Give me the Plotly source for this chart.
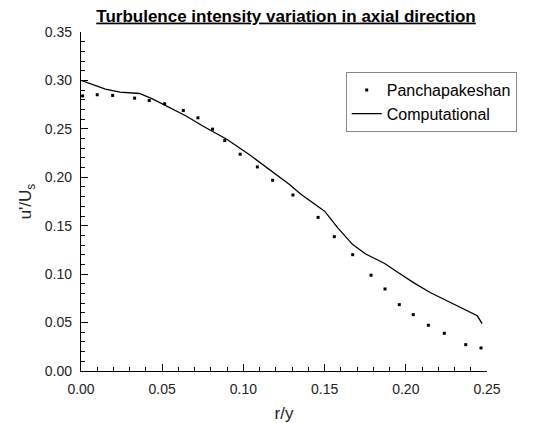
import plotly.graph_objects as go

# Experimental data (Panchapakeshan)
exp_x = [0.001, 0.010, 0.0195, 0.033, 0.042, 0.0515, 0.063, 0.072, 0.081, 0.0885,
         0.098, 0.1086, 0.118, 0.1305, 0.146, 0.156, 0.1673, 0.1786, 0.1872, 0.196,
         0.2046, 0.2139, 0.2237, 0.2369, 0.2463]
exp_y = [0.284, 0.2852, 0.2845, 0.2817, 0.2793, 0.2759, 0.2690, 0.2614, 0.2497, 0.2379,
         0.2238, 0.2107, 0.1969, 0.1817, 0.1586, 0.1387, 0.1201, 0.0989, 0.0847, 0.0685,
         0.0582, 0.0472, 0.0389, 0.0272, 0.0238]

# Computational results
comp_x = [0.0, 0.008, 0.015, 0.024, 0.036, 0.044, 0.055, 0.065, 0.075, 0.090,
          0.104, 0.118, 0.128, 0.135, 0.141, 0.150, 0.158, 0.167, 0.175, 0.181,
          0.187, 0.195, 0.205, 0.215, 0.225, 0.233, 0.240, 0.244, 0.247]
comp_y = [0.300, 0.295, 0.291, 0.288, 0.2865, 0.281, 0.272, 0.263, 0.253, 0.239,
          0.223, 0.206, 0.193, 0.183, 0.176, 0.165, 0.148, 0.131, 0.121, 0.116,
          0.111, 0.102, 0.091, 0.081, 0.073, 0.066, 0.061, 0.057, 0.049]

FONT = "Liberation Sans, Arial, sans-serif"

fig = go.Figure()
fig.add_trace(go.Scatter(x=exp_x, y=exp_y, mode="markers", name="Panchapakeshan",
                         marker=dict(symbol="square", size=3, color="black")))
fig.add_trace(go.Scatter(x=comp_x, y=comp_y, mode="lines", name="Computational",
                         line=dict(color="black", width=1.3)))

axis_common = dict(showline=True, linecolor="black", linewidth=1.3, mirror=False,
                   showgrid=False, zeroline=False, ticks="inside", ticklen=7,
                   tickwidth=1.3, tickcolor="black", automargin=False,
                   tickfont=dict(family=FONT, size=14, color="#222"),
                   minor=dict(ticks="inside", ticklen=4, tickwidth=1.3,
                              tickcolor="black", showgrid=False))

fig.update_xaxes(range=[0, 0.25], dtick=0.05, tickformat=".2f",
                 ticklabelstandoff=5,
                 title=dict(text="r/y", font=dict(family=FONT, size=17, color="#222"),
                            standoff=12),
                 **axis_common)
fig.update_yaxes(range=[0, 0.35], dtick=0.05, tickformat=".2f",
                 ticklabelstandoff=5,
                 title=dict(text="u'/U<sub>s</sub>",
                            font=dict(family=FONT, size=17, color="#222"), standoff=8),
                 **axis_common)

fig.update_layout(
    width=543, height=423,
    margin=dict(l=81, r=56, t=32, b=52),
    paper_bgcolor="white", plot_bgcolor="white",
    title=dict(text="<b><u>Turbulence intensity variation in axial direction</u></b>",
               x=286 / 543, xref="container", xanchor="center",
               y=0.963, yanchor="middle",
               font=dict(family=FONT, size=17, color="black")),
    legend=dict(x=0.652, y=0.882, xanchor="left", yanchor="top",
                bordercolor="#888", borderwidth=1, bgcolor="white",
                font=dict(family=FONT, size=16, color="black"),
                itemwidth=30, tracegroupgap=0),
    showlegend=True,
)

fig.write_html("out.html")
